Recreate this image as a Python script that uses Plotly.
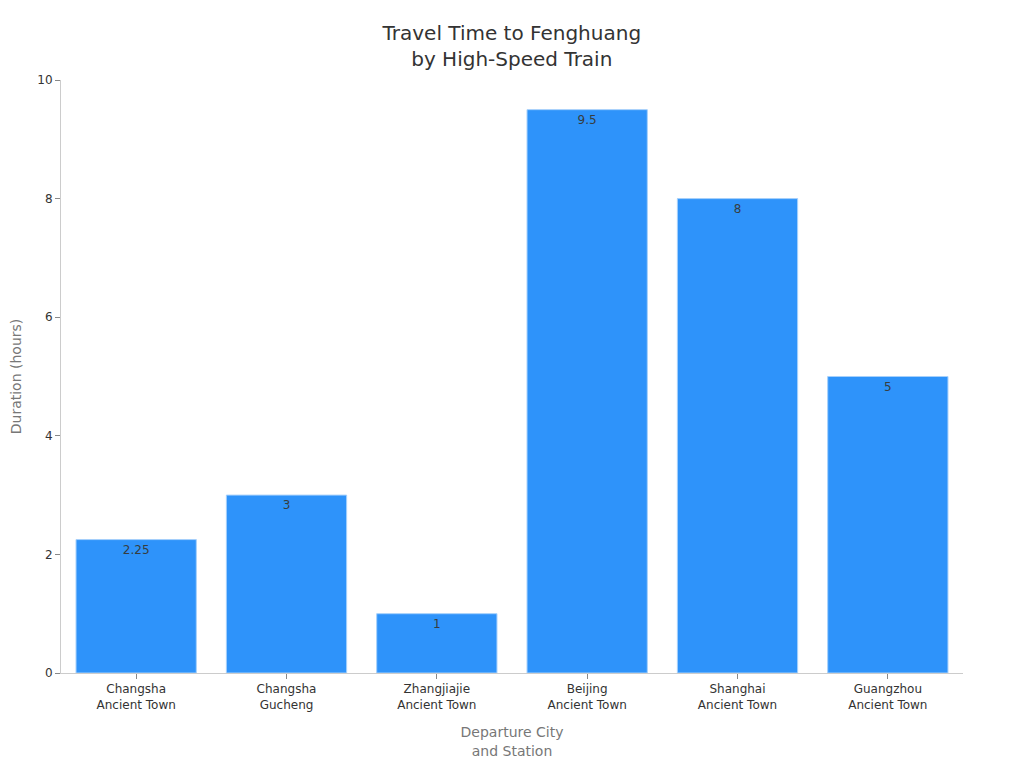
import plotly.graph_objects as go

# Chart data
stations = [
    "Changsha<br>Ancient Town",
    "Changsha<br>Gucheng",
    "Zhangjiajie<br>Ancient Town",
    "Beijing<br>Ancient Town",
    "Shanghai<br>Ancient Town",
    "Guangzhou<br>Ancient Town",
]
hours = [2.25, 3, 1, 9.5, 8, 5]
y_ticks = [0, 2, 4, 6, 8, 10]

_FONT = "DejaVu Sans, sans-serif"

fig = go.Figure(
    go.Bar(
        x=stations,
        y=hours,
        text=[f"{v:g}" for v in hours],
        textposition="inside",
        insidetextanchor="end",
        textfont=dict(color="#373d3f", size=12, family=_FONT),
        marker=dict(color="#2e93fa", line=dict(color="#a6d0fb", width=1)),
        hoverinfo="x+y",
    )
)

# the page adds an 8px body margin, so margins are trimmed to match
fig.update_layout(
    width=1024,
    height=768,
    plot_bgcolor="white",
    paper_bgcolor="white",
    font=dict(family=_FONT, color="#333333", size=12),
    title=dict(
        text="Travel Time to Fenghuang<br>by High-Speed Train",
        x=0.492,
        xanchor="center",
        y=0.958,
        yanchor="top",
        font=dict(size=20, color="#333333"),
    ),
    margin=dict(l=53, r=69, t=72, b=103),
    bargap=0.2,
    showlegend=False,
)

fig.update_xaxes(
    title=dict(text="Departure City<br>and Station", font=dict(size=14, color="#777777"), standoff=16),
    showline=True,
    linecolor="#cccccc",
    ticks="outside",
    ticklen=5,
    tickcolor="#888888",
    tickfont=dict(size=12, color="#333333"),
    showgrid=False,
)
fig.update_yaxes(
    title=dict(text="Duration (hours)", font=dict(size=14, color="#777777"), standoff=18),
    automargin=False,
    range=[0, 10],
    tickvals=y_ticks,
    showline=True,
    linecolor="#cccccc",
    ticks="outside",
    ticklen=5,
    tickcolor="#888888",
    tickfont=dict(size=12, color="#333333"),
    showgrid=False,
    zeroline=False,
)

fig.write_html("out.html")
